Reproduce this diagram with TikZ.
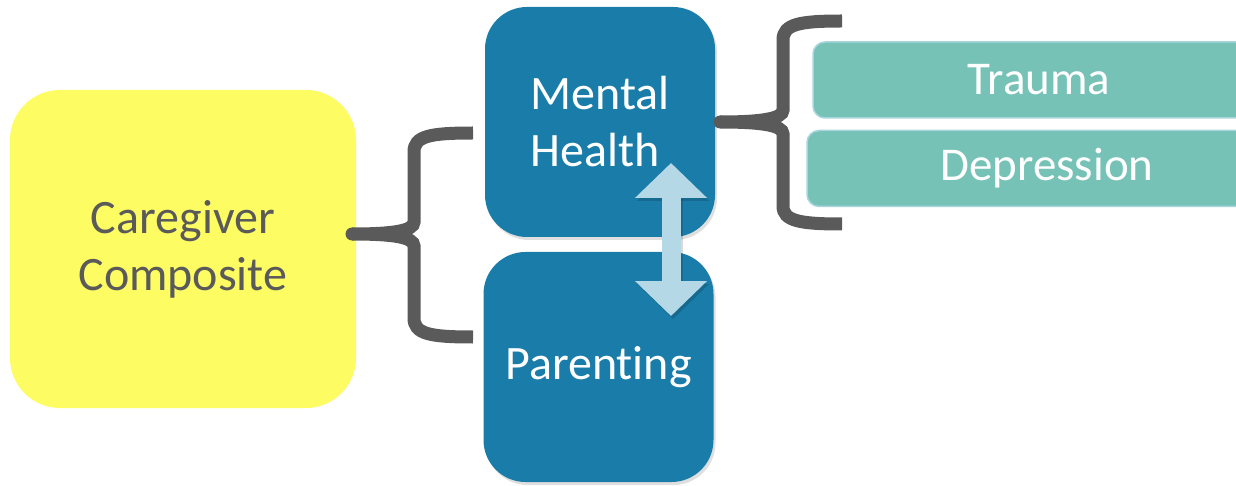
\documentclass[tikz,border=0pt]{standalone}
\usepackage{fontspec}
\setmainfont{Carlito}[Ligatures=NoCommon]
\usetikzlibrary{arrows.meta,shadows}
\definecolor{cgyellow}{HTML}{FDFC62}
\definecolor{cgblue}{HTML}{1A7DA9}
\definecolor{cgteal}{HTML}{76C2B7}
\definecolor{cgtealline}{HTML}{A9D6DE}
\definecolor{cgarrow}{HTML}{B5D8E7}
\definecolor{cggray}{HTML}{5A5A5A}
\newcommand{\bigtxt}{\fontsize{48}{57}\selectfont}
\newcommand{\midtxt}{\fontsize{47}{52}\selectfont}

\begin{document}
\begin{tikzpicture}[
    x=1pt, y=-1pt,
    softshadow/.style={drop shadow={opacity=0.25, shadow xshift=2pt, shadow yshift=-3pt}},
    yellowbox/.style={rectangle, rounded corners=50pt, fill=cgyellow, inner sep=0pt,
      minimum width=346pt, minimum height=318pt, text=cggray, align=center, font=\bigtxt},
    bluebox/.style={rectangle, rounded corners=42pt, fill=cgblue, inner sep=0pt, softshadow,
      minimum width=230pt, minimum height=230pt, text=white, align=left, font=\bigtxt},
    tealbox/.style={rectangle, rounded corners=12pt, fill=cgteal, draw=cgtealline, line width=1.5pt,
      inner sep=0pt, minimum height=76pt, text=white, font=\midtxt},
    bracet/.style={line width=13pt, draw=cggray, line cap=butt},
    dblarrow/.style={line width=19pt, draw=cgarrow,
      {Triangle[length=35pt, width=70pt]}-{Triangle[length=35pt, width=70pt]}}
  ]
  \useasboundingbox (0,0) rectangle (1236,486);
  \clip (0,0) rectangle (1236,486);

  \path (183,249) node(care) [yellowbox] {Caregiver\\Composite}
  (600,122) node(mental) [bluebox] {Mental\\Health}
  (598.5,367) node(parent) [bluebox] {Parenting}
  (1039,80) node(trauma) [tealbox, minimum width=452pt] {Trauma}
  (1047,168.5) node(depress) [tealbox, minimum width=480pt] {Depression};

  \coordinate (ltip) at (352,234);
  \coordinate (rtip) at (720,122);
  \coordinate (dtop) at (671,163);
  \coordinate (dbot) at (671,316);

  \draw[bracet] (473,133) .. controls (430,133) and (414,136) .. (414,152)
    -- (414,222) .. controls (414,231) and (392,234) .. (ltip)
    .. controls (392,234) and (414,237) .. (414,246)
    -- (414,318) .. controls (414,334) and (430,337) .. (473,337);
  \fill[cggray] (ltip) circle (6.5pt);

  \draw[bracet] (842,21) .. controls (800,21) and (783,24) .. (783,40)
    -- (783,110) .. controls (783,119) and (760,122) .. (rtip)
    .. controls (760,122) and (783,125) .. (783,134)
    -- (783,206) .. controls (783,221) and (800,224) .. (842,224);
  \fill[cggray] (rtip) circle (6.5pt);

  \draw[dblarrow, draw=black, opacity=0.15, transform canvas={xshift=2pt, yshift=-3pt}] (dtop) -- (dbot);
  \draw[dblarrow] (dtop) -- (dbot);
\end{tikzpicture}
\end{document}
